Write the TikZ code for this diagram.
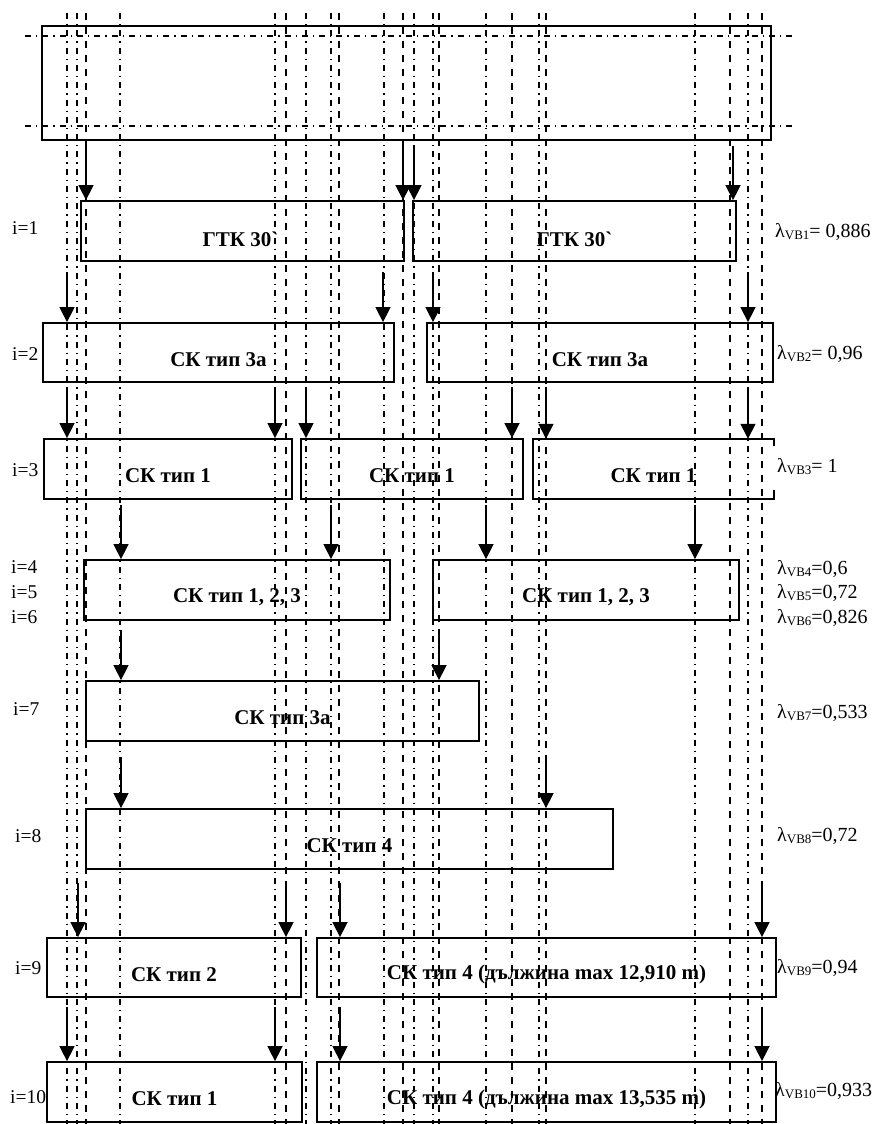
\documentclass[tikz,border=0pt]{standalone}
\usepackage{fontspec}
\setmainfont{Liberation Serif}
\usetikzlibrary{arrows.meta,fit}
\begin{document}
\begin{tikzpicture}[x=1pt,y=-1pt,
  boxst/.style={draw,line width=1.8pt,inner sep=0pt},
  boxopen/.style={inner sep=0pt},
  boxline/.style={line width=1.8pt},
  btxt/.style={inner sep=0pt,font=\fontsize{21}{24}\selectfont\bfseries},
  ilbl/.style={inner sep=0pt,anchor=west,font=\fontsize{19.5}{22}\selectfont},
  llbl/.style={inner sep=0pt,anchor=west,font=\fontsize{20}{22}\selectfont},
  dd/.style={line width=1.3pt,dash pattern=on 6pt off 5pt on 1.3pt off 5pt},
  ds/.style={line width=1.3pt,dash pattern=on 7pt off 7pt},
  arr/.style={line width=1.5pt,-{Triangle[width=15pt,length=15pt]}}
]
\useasboundingbox (0,0) rectangle (877,1124);
\newcommand\sub[1]{\raisebox{-2pt}{\fontsize{13}{13}\selectfont #1}}

% top box
\node[boxst,fit={(42,26) (771,140)}] (top) {};
\draw[dd] (25,36) -- (792,36);
\draw[dd] (25,126) -- (792,126);

% vertical axis lines
\foreach \x in {67,77,120,275,306,331,384,414,433,486,539,695,748}
  \draw[dd] (\x,13) -- (\x,1124);
\foreach \x in {86,286,339,403,439,512,546,730,762}
  \draw[ds] (\x,13) -- (\x,1124);

% boxes
\node[boxst,fit={(81,201) (404,261)}] (b1a) {};
\node[boxst,fit={(413,201) (736,261)}] (b1b) {};
\node[boxst,fit={(43,323) (394,382)}] (b2a) {};
\node[boxst,fit={(427,323) (773,382)}] (b2b) {};
\node[boxst,fit={(44,439) (292,499)}] (b3a) {};
\node[boxst,fit={(301,439) (523,499)}] (b3b) {};
\node[boxopen,fit={(533,439) (774,499)}] (b3c) {};
\draw[boxline] ([yshift=-7pt]b3c.north east) -- (b3c.north east) -- (b3c.north west)
  -- (b3c.south west) -- (b3c.south east) -- ([yshift=9pt]b3c.south east);
\node[boxst,fit={(84,560) (390,620)}] (b4a) {};
\node[boxst,fit={(433,560) (739,620)}] (b4b) {};
\node[boxst,fit={(86,681) (479,741)}] (b7) {};
\node[boxst,fit={(86,809) (613,869)}] (b8) {};
\node[boxst,fit={(47,938) (301,997)}] (b9a) {};
\node[boxst,fit={(317,938) (776,997)}] (b9b) {};
\node[boxst,fit={(47,1062) (302,1122)}] (b10a) {};
\node[boxst,fit={(317,1062) (776,1122)}] (b10b) {};

% box texts
\node[btxt] (t1a) at ([xshift=-2pt,yshift=-8pt]b1a.center) {ГТК 30\textasciigrave};
\node[btxt] (t1b) at ([yshift=-8pt]b1b.center) {ГТК 30\textasciigrave};
\node[btxt] (t2a) at ([yshift=-7pt]b2a.center) {СК тип 3а};
\node[btxt] (t2b) at ([yshift=-7pt]b2b.center) {СК тип 3а};
\node[btxt] (t3a) at ([yshift=-7pt]b3a.center) {СК тип 1};
\node[btxt] (t3b) at ([yshift=-7pt]b3b.center) {СК тип 1};
\node[btxt] (t3c) at ([yshift=-7pt]b3c.center) {СК тип 1};
\node[btxt] (t4a) at ([yshift=-7pt]b4a.center) {СК тип 1, 2, 3};
\node[btxt] (t4b) at ([yshift=-7pt]b4b.center) {СК тип 1, 2, 3};
\node[btxt] (t7) at ([yshift=-7pt]b7.center) {СК тип 3а};
\node[btxt] (t8) at ([yshift=-7pt]b8.center) {СК тип 4};
\node[btxt] (t9a) at ([yshift=-7pt]b9a.center) {СК тип 2};
\node[btxt] (t9b) at ([yshift=-7pt]b9b.center) {СК тип 4 (дължина max 12,910 m)};
\node[btxt] (t10a) at ([yshift=-7pt]b10a.center) {СК тип 1};
\node[btxt] (t10b) at ([yshift=-7pt]b10b.center) {СК тип 4 (дължина max 13,535 m)};

% arrows
\foreach \x in {86,403} \draw[arr] (\x,146) -- (\x,0 |- b1a.north);
\foreach \x in {414,733} \draw[arr] (\x,146) -- (\x,0 |- b1b.north);
\foreach \x in {67,383} \draw[arr] (\x,272) -- (\x,0 |- b2a.north);
\foreach \x in {433,748} \draw[arr] (\x,272) -- (\x,0 |- b2b.north);
\foreach \x in {67,275} \draw[arr] (\x,387) -- (\x,0 |- b3a.north);
\foreach \x in {306,512} \draw[arr] (\x,387) -- (\x,0 |- b3b.north);
\foreach \x in {546,748} \draw[arr] (\x,387) -- (\x,0 |- b3c.north);
\foreach \x in {121,331} \draw[arr] (\x,505) -- (\x,0 |- b4a.north);
\foreach \x in {486,695} \draw[arr] (\x,505) -- (\x,0 |- b4b.north);
\foreach \x in {121,439} \draw[arr] (\x,630) -- (\x,0 |- b7.north);
\foreach \x in {121,546} \draw[arr] (\x,757) -- (\x,0 |- b8.north);
\foreach \x in {78,286} \draw[arr] (\x,883) -- (\x,0 |- b9a.north);
\foreach \x in {340,762} \draw[arr] (\x,883) -- (\x,0 |- b9b.north);
\foreach \x in {67,275} \draw[arr] (\x,1007) -- (\x,0 |- b10a.north);
\foreach \x in {340,762} \draw[arr] (\x,1007) -- (\x,0 |- b10b.north);

% i labels
\node[ilbl] (i1) at (12,228) {i=1};
\node[ilbl] (i2) at (12,354) {i=2};
\node[ilbl] (i3) at (12,470) {i=3};
\node[ilbl] (i4) at (11,567) {i=4};
\node[ilbl] (i5) at (11,592) {i=5};
\node[ilbl] (i6) at (11,617) {i=6};
\node[ilbl] (i7) at (13,709) {i=7};
\node[ilbl] (i8) at (15,836) {i=8};
\node[ilbl] (i9) at (15,968) {i=9};
\node[ilbl] (i10) at (10,1097) {i=10};

% lambda labels
\node[llbl] (l1) at (775,232) {λ\sub{VB1}= 0,886};
\node[llbl] (l2) at (777,354) {λ\sub{VB2}= 0,96};
\node[llbl] (l3) at (777,467) {λ\sub{VB3}= 1};
\node[llbl] (l4) at (777,569) {λ\sub{VB4}=0,6};
\node[llbl] (l5) at (777,593) {λ\sub{VB5}=0,72};
\node[llbl] (l6) at (777,618) {λ\sub{VB6}=0,826};
\node[llbl] (l7) at (777,713) {λ\sub{VB7}=0,533};
\node[llbl] (l8) at (777,836) {λ\sub{VB8}=0,72};
\node[llbl] (l9) at (777,968) {λ\sub{VB9}=0,94};
\node[llbl] (l10) at (775,1091) {λ\sub{VB10}=0,933};
\end{tikzpicture}
\end{document}
